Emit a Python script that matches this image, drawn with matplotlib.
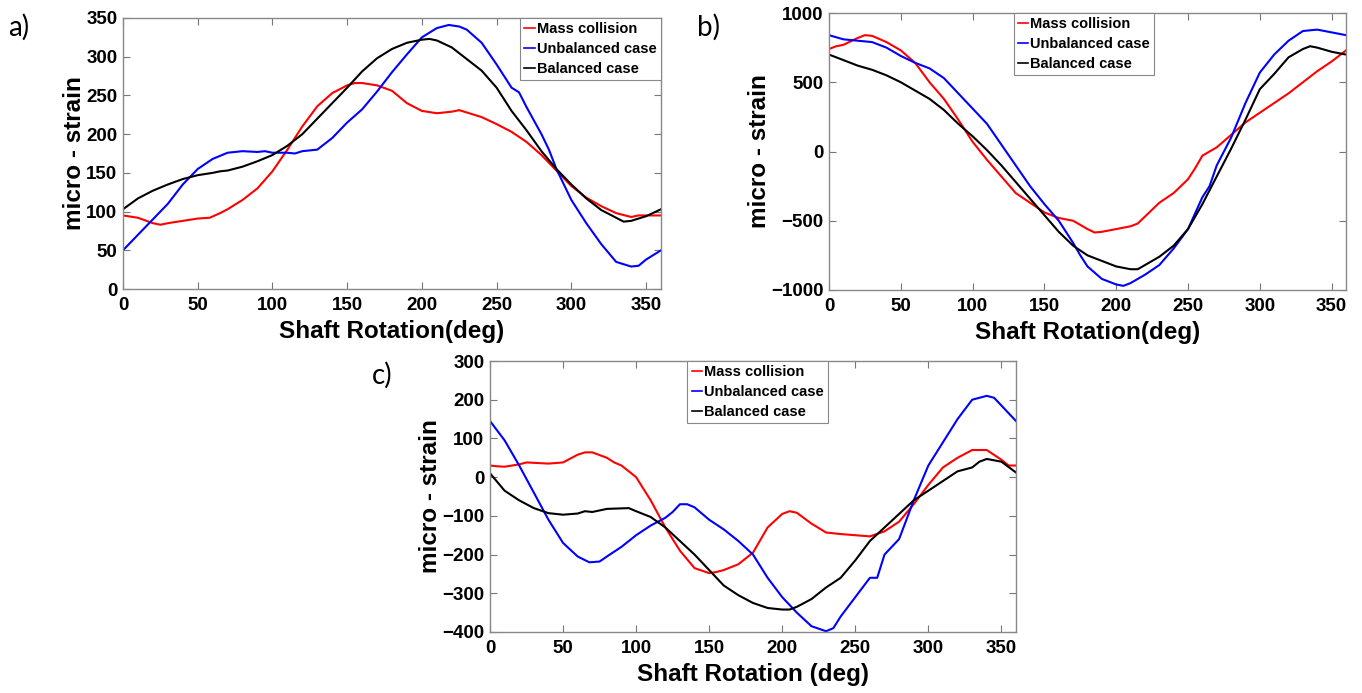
import matplotlib
matplotlib.use("Agg")
import matplotlib.pyplot as plt

# ---------------- data ----------------
# Panel a
a_red_x = [0, 10, 20, 25, 30, 40, 50, 58, 65, 70, 80, 90, 100, 110, 120, 130, 140, 150, 155, 160,
           170, 180, 190, 200, 210, 220, 225, 230, 240, 250, 260, 270, 280, 290, 300, 310, 320, 330,
           340, 345, 350, 360]
a_red_y = [95, 92, 85, 83, 85, 88, 91, 92, 98, 103, 115, 130, 152, 180, 210, 236, 253, 263, 266, 266,
           263, 256, 240, 230, 227, 229, 231, 228, 222, 213, 203, 190, 173, 153, 133, 118, 107, 98,
           93, 95, 95, 95]
a_blue_x = [0, 5, 10, 20, 30, 40, 50, 60, 70, 80, 90, 95, 100, 110, 115, 120, 130, 140, 150, 160,
            170, 180, 190, 200, 210, 218, 225, 230, 240, 250, 260, 265, 270, 280, 285, 290, 300, 310,
            320, 330, 340, 345, 350, 360]
a_blue_y = [50, 60, 70, 90, 110, 135, 155, 168, 176, 178, 177, 178, 176, 176, 175, 178, 180, 195, 215,
            232, 255, 280, 303, 325, 337, 341, 339, 335, 318, 290, 260, 254, 235, 200, 180, 155, 115,
            85, 58, 35, 29, 30, 38, 50]
a_black_x = [0, 10, 20, 30, 40, 50, 60, 65, 70, 80, 90, 100, 110, 120, 130, 140, 150, 160, 170, 180,
             190, 200, 205, 210, 220, 230, 240, 250, 260, 270, 280, 290, 300, 310, 320, 330, 335, 340,
             350, 360]
a_black_y = [103, 117, 127, 135, 142, 147, 150, 152, 153, 158, 165, 173, 185, 200, 220, 240, 260, 281,
             298, 310, 318, 322, 323, 321, 312, 297, 282, 260, 230, 205, 178, 155, 135, 117, 102, 92,
             87, 88, 94, 103]

# Panel b
b_red_x = [0, 5, 10, 20, 25, 30, 40, 50, 60, 70, 80, 90, 100, 110, 120, 130, 140, 150, 160, 170, 180,
           185, 190, 200, 210, 215, 220, 230, 240, 250, 255, 260, 270, 280, 290, 300, 310, 320, 330,
           340, 350, 360]
b_red_y = [740, 760, 770, 820, 840, 835, 790, 730, 640, 500, 380, 230, 70, -60, -180, -300, -370, -440,
           -480, -500, -560, -585, -580, -560, -540, -520, -470, -370, -300, -200, -120, -30, 30, 120,
           210, 280, 350, 420, 500, 580, 650, 730]
b_blue_x = [0, 10, 20, 30, 40, 50, 60, 70, 80, 90, 100, 110, 120, 130, 140, 150, 160, 170, 175, 180,
            190, 200, 205, 210, 220, 230, 240, 250, 260, 265, 270, 280, 290, 300, 310, 320, 330, 340,
            350, 360]
b_blue_y = [840, 810, 800, 790, 750, 690, 640, 600, 530, 420, 310, 200, 50, -100, -250, -380, -500,
            -660, -750, -830, -920, -960, -970, -950, -890, -820, -700, -560, -330, -250, -100, 100,
            350, 570, 700, 800, 870, 880, 860, 840]
b_black_x = [0, 10, 20, 30, 40, 50, 60, 70, 80, 90, 100, 110, 120, 130, 140, 150, 160, 170, 180, 190,
             200, 210, 215, 220, 230, 240, 250, 260, 270, 280, 290, 300, 310, 320, 330, 335, 340, 350,
             360]
b_black_y = [700, 660, 620, 590, 550, 500, 440, 380, 300, 200, 110, 10, -100, -220, -340, -460, -580,
             -680, -750, -790, -830, -850, -850, -820, -760, -680, -560, -380, -180, 20, 230, 450, 560,
             680, 740, 760, 750, 720, 700]

# Panel c
c_red_x = [0, 5, 10, 20, 25, 30, 40, 50, 60, 65, 70, 80, 85, 90, 100, 110, 120, 130, 140, 150, 155,
           160, 170, 180, 190, 200, 205, 210, 220, 230, 240, 250, 260, 270, 280, 290, 300, 310, 320,
           330, 340, 350, 355, 360]
c_red_y = [30, 28, 27, 33, 38, 37, 35, 38, 58, 64, 64, 50, 38, 30, 0, -60, -130, -190, -235, -248,
           -245, -240, -225, -195, -130, -95, -88, -92, -120, -143, -147, -150, -153, -140, -115, -70,
           -20, 25, 50, 70, 70, 45, 30, 30]
c_blue_x = [0, 10, 20, 30, 40, 50, 60, 68, 75, 80, 90, 100, 110, 120, 125, 130, 135, 140, 150, 160,
            170, 180, 190, 200, 210, 220, 230, 235, 240, 250, 260, 265, 270, 280, 290, 300, 310, 320,
            330, 340, 345, 350, 360]
c_blue_y = [145, 95, 30, -40, -110, -170, -205, -220, -218, -205, -180, -150, -125, -105, -90, -70,
            -70, -78, -110, -135, -165, -200, -260, -310, -350, -385, -398, -390, -360, -310, -260,
            -260, -200, -160, -60, 30, 90, 150, 200, 210, 205, 185, 145]
c_black_x = [0, 10, 20, 30, 40, 50, 60, 65, 70, 80, 95, 100, 110, 120, 130, 140, 150, 160, 170, 180,
             190, 200, 205, 210, 220, 230, 240, 250, 260, 270, 280, 290, 300, 310, 320, 330, 335, 340,
             350, 360]
c_black_y = [10, -35, -60, -80, -93, -97, -94, -88, -90, -82, -80, -88, -103, -130, -165, -200, -240,
             -280, -305, -325, -338, -342, -342, -335, -315, -285, -260, -215, -165, -130, -95, -60,
             -35, -10, 15, 25, 40, 47, 40, 12]

series_labels = ["Mass collision", "Unbalanced case", "Balanced case"]
series_colors = ["#ff0000", "#0000ff", "#000000"]

x_ticks = [0, 50, 100, 150, 200, 250, 300, 350]
a_yticks = [0, 50, 100, 150, 200, 250, 300, 350]
b_yticks = [-1000, -500, 0, 500, 1000]
c_yticks = [-400, -300, -200, -100, 0, 100, 200, 300]

xlabel_ab = "Shaft Rotation(deg)"
xlabel_c = "Shaft Rotation (deg)"
ylabel = "micro - strain"

plt.rcParams['font.family'] = ['Liberation Sans', 'DejaVu Sans']

fig = plt.figure(figsize=(13.62, 6.93), dpi=100)

W, H = 1362, 693
def ax_rect(l, r, t, b):
    return [l / W, (H - b) / H, (r - l) / W, (b - t) / H]

panels = [
    dict(rect=ax_rect(123, 661, 18, 289),
         data=[(a_red_x, a_red_y), (a_blue_x, a_blue_y), (a_black_x, a_black_y)],
         ylim=(0, 350), yticks=a_yticks, xlabel=xlabel_ab,
         leg=dict(loc='upper right', bbox_to_anchor=(1.0, 1.0)),
         tag="a)", tagpos=(8, 27)),
    dict(rect=ax_rect(829, 1346, 13, 290),
         data=[(b_red_x, b_red_y), (b_blue_x, b_blue_y), (b_black_x, b_black_y)],
         ylim=(-1000, 1000), yticks=b_yticks, xlabel=xlabel_ab,
         leg=dict(loc='upper left', bbox_to_anchor=(0.357, 1.0)),
         tag="b)", tagpos=(697, 27)),
    dict(rect=ax_rect(490, 1016, 361, 632),
         data=[(c_red_x, c_red_y), (c_blue_x, c_blue_y), (c_black_x, c_black_y)],
         ylim=(-400, 300), yticks=c_yticks, xlabel=xlabel_c,
         leg=dict(loc='upper left', bbox_to_anchor=(0.375, 1.0)),
         tag="c)", tagpos=(372, 375)),
]

for p in panels:
    ax = fig.add_axes(p['rect'])
    for (xs, ys), lab, col in zip(p['data'], series_labels, series_colors):
        ax.plot(xs, ys, color=col, lw=1.5, label=lab)
    ax.set_xlim(0, 360)
    ax.set_ylim(*p['ylim'])
    ax.set_xticks(x_ticks)
    ax.set_yticks(p['yticks'])
    ax.tick_params(direction='in', top=True, right=True, length=5, width=0.8,
                   color='#777777', labelsize=13.5)
    ax.tick_params(axis='x', pad=6)
    ax.tick_params(axis='y', pad=4)
    for lbl in ax.get_xticklabels() + ax.get_yticklabels():
        lbl.set_fontweight('bold')
    for s in ax.spines.values():
        s.set_color('#888888')
        s.set_linewidth(1.0)
    ax.set_xlabel(p['xlabel'], fontsize=17.5, fontweight='bold', labelpad=4)
    ax.set_ylabel(ylabel, fontsize=17.5, fontweight='bold', labelpad=0)
    leg = ax.legend(frameon=True, fancybox=False, framealpha=1,
                    edgecolor='#888888', handlelength=0.7, handletextpad=0.15,
                    borderpad=0.3, labelspacing=0.4, borderaxespad=0.0,
                    prop=dict(family=['Liberation Sans', 'DejaVu Sans'], weight='bold', size=10.5),
                    **p['leg'])
    leg.get_frame().set_linewidth(0.8)
    for ln in leg.get_lines():
        ln.set_linewidth(1.2)
    fig.text(p['tagpos'][0] / W, 1 - p['tagpos'][1] / H, p['tag'], fontsize=20,
             family=['Lato', 'DejaVu Sans'], va='center', ha='left')

fig.savefig("out.png", dpi=100)
